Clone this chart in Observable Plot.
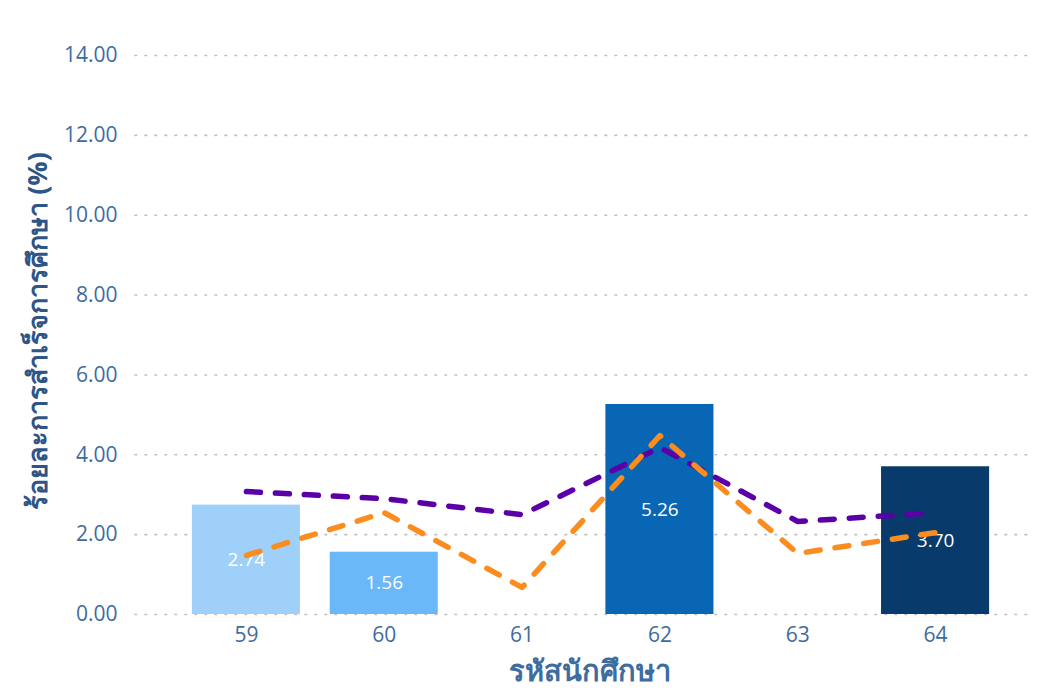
<!DOCTYPE html>
<html><head><meta charset="utf-8">
<script src="https://cdn.jsdelivr.net/npm/d3@7"></script>
<script src="https://cdn.jsdelivr.net/npm/@observablehq/plot@0.6"></script>
<style>body{margin:0;background:#fff;font-family:"Open Sans","Noto Sans",sans-serif}</style>
</head><body><div id="chart"></div>
<script>
const categories = ["59","60","61","62","63","64"];
const barValues = [2.74, 1.56, null, 5.26, null, 3.70];
const barColors = ["#9fd0fa", "#6bb8f8", "#ffffff", "#0866b4", "#ffffff", "#083a6b"];
const purpleValues = [3.08, 2.9, 2.5, 4.18, 2.33, 2.55];
const orangeValues = [1.48, 2.55, 0.68, 4.48, 1.53, 2.05];
const yTicks = [0, 2, 4, 6, 8, 10, 12, 14];

const bars = categories.map((c, i) => ({c, v: barValues[i], color: barColors[i]})).filter(d => d.v != null);
const purple = categories.map((c, i) => ({c, v: purpleValues[i]}));
const orange = categories.map((c, i) => ({c, v: orangeValues[i]}));

const chart = Plot.plot({
  width: 1043, height: 698,
  marginLeft: 135, marginRight: 13, marginTop: 55, marginBottom: 84,
  style: {fontFamily: "'Open Sans','Noto Sans',sans-serif", background: "#fff"},
  x: {domain: categories, range: [177, 1004], paddingInner: 0.216, paddingOuter: 0.108, round: false, label: null},
  y: {domain: [0, 14], label: null},
  marks: [
    Plot.ruleY(yTicks, {stroke: "#bdbdbd", strokeWidth: 1.6, strokeDasharray: "1.6,8.4", strokeLinecap: "round"}),
    Plot.barY(bars, {x: "c", y: "v", fill: "color"}),
    Plot.text(bars, {x: "c", y: d => d.v / 2, text: d => d.v.toFixed(2), fill: "white", fontSize: 19}),
    Plot.line(purple, {x: "c", y: "v", stroke: "#5b00a8", strokeWidth: 5.5, strokeDasharray: "14,15"}),
    Plot.line(orange, {x: "c", y: "v", stroke: "#fb8c1e", strokeWidth: 5.5, strokeDasharray: "14,15"}),
    Plot.axisY(yTicks, {tickFormat: d => d.toFixed(2), tickSize: 0, tickPadding: 18, fontSize: 21, color: "#3e6c9e", label: null}),
    Plot.axisX({tickSize: 0, tickPadding: 13, fontSize: 21, color: "#3e6c9e", label: null}),
    Plot.text(["ร้อยละการสำเร็จการศึกษา (%)"], {frameAnchor: "left", textAnchor: "middle", dx: -97, dy: -4, rotate: -90, fontSize: 27, fontWeight: "bold", fill: "#2e5588"}),
    Plot.text(["รหัสนักศึกษา"], {frameAnchor: "bottom", dx: 7, dy: 66, fontSize: 29, fontWeight: "bold", fill: "#3e6c9e"})
  ]
});
document.getElementById("chart").append(chart);
</script></body></html>
